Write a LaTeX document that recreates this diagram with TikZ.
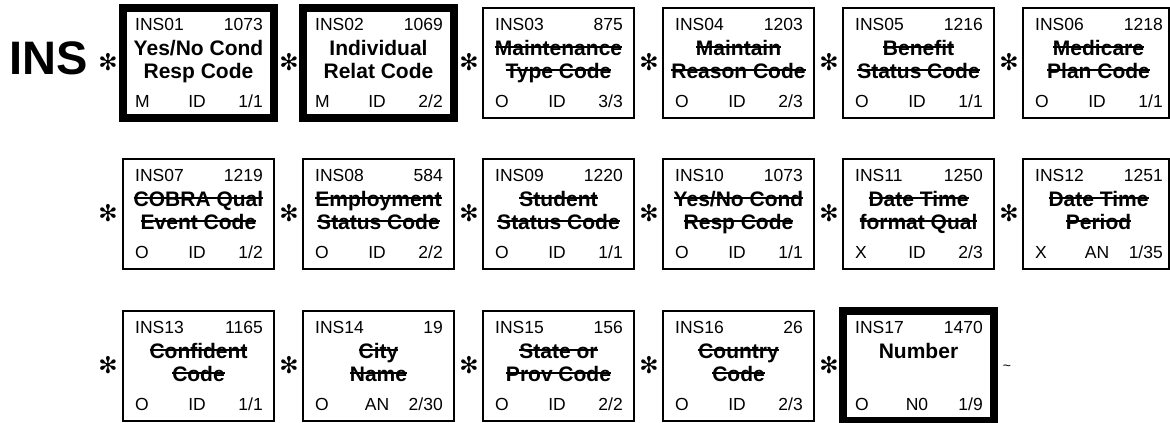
\documentclass[tikz,border=0pt]{standalone}
\usepackage{fontspec}
\setmainfont{Liberation Sans}
\newfontfamily\djv{DejaVu Sans}
\newcommand\stk[1]{\setbox0\hbox{#1}\rlap{\rule[0.34em]{\wd0}{0.1em}}\box0}
\tikzset{
 box/.style={draw, rectangle, outer sep=0pt, inner sep=0pt, minimum width=151bp, minimum height=110bp, anchor=north west},
 thinbox/.style={box, line width=1.1bp},
 thickbox/.style={box, line width=8bp},
 tx/.style={inner sep=0pt, font=\fontsize{17.5bp}{20bp}\selectfont},
 elname/.style={inner sep=0pt, font=\fontsize{21bp}{24bp}\selectfont\bfseries, anchor=base},
 sepstar/.style={inner sep=0pt, font=\djv\fontsize{23bp}{25bp}\selectfont},
}
\newcommand\elem[9]{%
\begin{scope}[shift={(#2)}]
\node[#1] (#3) at (0,0) {};
\node[tx, anchor=base west] (#3-id) at (12,22) {#3};
\node[tx, anchor=base east] (#3-num) at (140,22) {#4};
\node[elname] (#3-l1) at (75.5,47) {#5};
\node[elname] (#3-l2) at (75.5,70) {#6};
\node[tx, anchor=base west] (#3-req) at (12,99) {#7};
\node[tx, anchor=base] (#3-type) at (74,99) {#8};
\node[tx, anchor=base east] (#3-rep) at (140,99) {#9};
\end{scope}}
\begin{document}
\begin{tikzpicture}[x=1bp,y=-1bp]
\useasboundingbox (0,0) rectangle (1170,422);
\node[inner sep=0pt, anchor=base west, font=\fontsize{47bp}{50bp}\selectfont\bfseries] (seg) at (9,74) {INS};
% row 1
\elem{thickbox}{123,8}{INS01}{1073}{Yes/No Cond}{Resp Code}{M}{ID}{1/1}
\elem{thickbox}{303,8}{INS02}{1069}{Individual}{Relat Code}{M}{ID}{2/2}
\elem{thinbox}{483,8}{INS03}{875}{\stk{Maintenance}}{\stk{Type Code}}{O}{ID}{3/3}
\elem{thinbox}{663,8}{INS04}{1203}{\stk{Maintain}}{\stk{Reason Code}}{O}{ID}{2/3}
\elem{thinbox}{843,8}{INS05}{1216}{\stk{Benefit}}{\stk{Status Code}}{O}{ID}{1/1}
\elem{thinbox,minimum width=146bp}{1023,8}{INS06}{1218}{\stk{Medicare}}{\stk{Plan Code}}{O}{ID}{1/1}
% row 2
\elem{thinbox}{123,159}{INS07}{1219}{\stk{COBRA Qual}}{\stk{Event Code}}{O}{ID}{1/2}
\elem{thinbox}{303,159}{INS08}{584}{\stk{Employment}}{\stk{Status Code}}{O}{ID}{2/2}
\elem{thinbox}{483,159}{INS09}{1220}{\stk{Student}}{\stk{Status Code}}{O}{ID}{1/1}
\elem{thinbox}{663,159}{INS10}{1073}{\stk{Yes/No Cond}}{\stk{Resp Code}}{O}{ID}{1/1}
\elem{thinbox}{843,159}{INS11}{1250}{\stk{Date Time}}{\stk{format Qual}}{X}{ID}{2/3}
\elem{thinbox,minimum width=146bp}{1023,159}{INS12}{1251}{\stk{Date Time}}{\stk{Period}}{X}{AN}{1/35}
% row 3
\elem{thinbox}{123,311}{INS13}{1165}{\stk{Confident}}{\stk{Code}}{O}{ID}{1/1}
\elem{thinbox}{303,311}{INS14}{19}{\stk{City}}{\stk{Name}}{O}{AN}{2/30}
\elem{thinbox}{483,311}{INS15}{156}{\stk{State or}}{\stk{Prov Code}}{O}{ID}{2/2}
\elem{thinbox}{663,311}{INS16}{26}{\stk{Country}}{\stk{Code}}{O}{ID}{2/3}
\elem{thickbox}{843,311}{INS17}{1470}{Number}{}{O}{N0}{1/9}
% separators
\foreach \yy/\r in {62/1,213/2,365/3}{
  \foreach \xx/\c in {108/1,289/2,469/3,649/4,829/5,1009/6}{
    \ifnum\r=3 \ifnum\c=6 \else \node[sepstar] (s\r-\c) at (\xx,\yy) {✻}; \fi
    \else \node[sepstar] (s\r-\c) at (\xx,\yy) {✻}; \fi
  }
}
\node[tx, font=\fontsize{14bp}{16bp}\selectfont] (term) at (1007,368) {\textasciitilde};
\end{tikzpicture}
\end{document}
